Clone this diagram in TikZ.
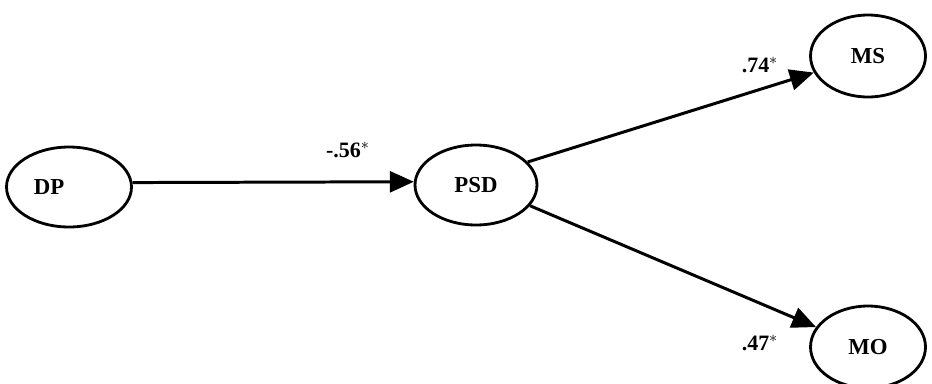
\documentclass[tikz,border=0pt]{standalone}
\usepackage{fontspec}
\setmainfont{Liberation Serif}
\usetikzlibrary{shapes.geometric,arrows.meta}

\tikzset{
    latent/.style={ellipse, draw, line width=1.6pt, minimum width=2.5cm, minimum height=1.6cm,
        inner sep=0pt, font=\fontsize{13}{15}\selectfont\bfseries},
    path/.style={line width=1.7pt, -{Triangle[length=0.48cm,width=0.42cm]}},
    coef/.style={font=\fontsize{12.5}{14}\selectfont\bfseries}
}

\begin{document}
\begin{tikzpicture}[x=0.02cm, y=-0.02cm]

        % Frame (pixel grid of the figure)
        \useasboundingbox (0,0) rectangle (932,383);

        % Latent variables
        \node[latent] (DP)  at (69,187)  {DP\kern0.8cm};
        \node[latent, minimum width=2.44cm] (PSD) at (476,185) {PSD};
        \node[latent, minimum width=2.3cm, minimum height=1.64cm] (MS)  at (868,56)  {MS};
        \node[latent, minimum width=2.3cm, minimum height=1.64cm] (MO)  at (868,347) {MO};

        % Paths
        \draw[path] (DP.4) -- (PSD.177);
        \draw[path] (PSD.24) -- (MS.197);
        \draw[path] (PSD.339) -- (MO.159);

        % Path coefficients
        \node[coef] (cDP)  at (348,150) {-.56$^{*}$};
        \node[coef] (cMS)  at (760,65)  {.74$^{*}$};
        \node[coef] (cMO)  at (760,343) {.47$^{*}$};

    \end{tikzpicture}
\end{document}
